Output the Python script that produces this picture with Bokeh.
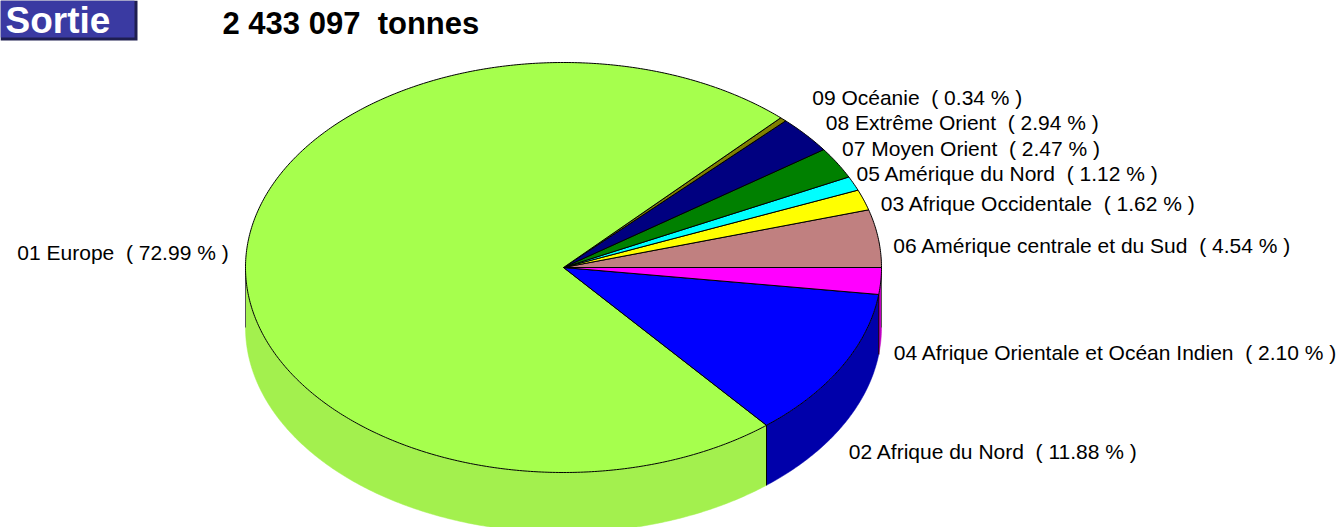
import numpy as np
from bokeh.plotting import figure
from bokeh.models import ColumnDataSource, Range1d
from bokeh.core.properties import value
from bokeh.embed import file_html
from bokeh.resources import INLINE

# ---- data (pie order: counter-clockwise starting at 3 o'clock) ----
codes = ["06", "03", "05", "07", "08", "09", "01", "02", "04"]
names = ["Amérique centrale et du Sud", "Afrique Occidentale", "Amérique du Nord",
         "Moyen Orient", "Extrême Orient", "Océanie", "Europe",
         "Afrique du Nord", "Afrique Orientale et Océan Indien"]
percents = [4.54, 1.62, 1.12, 2.47, 2.94, 0.34, 72.99, 11.88, 2.10]
total_tonnes = 2433097
flow_label = "Sortie"

# ---- styles ----
top_colors = ["#c08080", "#ffff00", "#00ffff", "#008000", "#000080", "#808000",
              "#a6ff4d", "#0000ff", "#ff00ff"]
side_colors = ["#9a6666", "#cccc00", "#00cccc", "#006600", "#000066", "#666600",
               "#a3f04e", "#0000aa", "#c000c0"]
# label nudges (pixels) relative to the slice's rim anchor point
nudges = {"06": (15, 7), "03": (17, 4), "05": (3, -10), "07": (5, -14),
          "08": (20, -12), "09": (29, -22), "01": (-17, -9),
          "02": (7, 85), "04": (13, 71)}

W, H = 1344, 527
cx, cy, rx, ry, depth = 563.0, 267.0, 318.0, 205.0, 60.0
FONT = "Liberation Sans"
NB = "\u00a0"


def rim(t_deg, dy=0.0):
    t = np.radians(t_deg)
    return cx + rx * np.cos(t), cy - ry * np.sin(t) + dy


p = figure(width=W, height=H, x_range=Range1d(0, W), y_range=Range1d(H, 0),
           output_backend="svg", toolbar_location=None, min_border=0)
p.axis.visible = False
p.grid.visible = False
p.outline_line_color = None
p.background_fill_color = "white"

cum = np.concatenate([[0.0], np.cumsum(percents)])
a0 = cum[:-1] * 3.6
a1 = cum[1:] * 3.6

# ---- side faces (front half: 180..360 deg) ----
side_xs, side_ys, side_c = [], [], []
edges = []
for i in range(len(percents)):
    s, e = max(a0[i], 180.0), min(a1[i], 360.0)
    if e <= s:
        continue
    ts = np.linspace(s, e, max(int((e - s) * 2), 4))
    tx, ty = rim(ts)
    bx, by = rim(ts[::-1], depth)
    side_xs.append(list(tx) + list(bx))
    side_ys.append(list(ty) + list(by))
    side_c.append(side_colors[i])
    if 180.0 < a0[i] < 360.0:
        edges.append(a0[i])
p.patches(xs=side_xs, ys=side_ys, fill_color=side_c, line_color=side_c, line_width=0.5)

ex, ey = [], []
for a in edges:
    x0, y0 = rim(a)
    ex.append([x0, x0]); ey.append([y0, y0 + depth])
p.multi_line(xs=ex, ys=ey, line_color="black", line_width=1)
sx, sy = [], []
for a in (180.0, 360.0):
    x0, y0 = rim(a)
    sx.append([x0, x0]); sy.append([y0, y0 + depth])
p.multi_line(xs=sx, ys=sy, line_color="#555555", line_width=1)

# ---- top faces ----
top_xs, top_ys = [], []
for i in range(len(percents)):
    ts = np.linspace(a0[i], a1[i], max(int((a1[i] - a0[i]) * 2), 4))
    tx, ty = rim(ts)
    top_xs.append([cx] + list(tx))
    top_ys.append([cy] + list(ty))
p.patches(xs=top_xs, ys=top_ys, fill_color=top_colors, line_color="black", line_width=1)

# ---- labels ----
lx, ly, lt, la = [], [], [], []
for i in range(len(percents)):
    m = (a0[i] + a1[i]) / 2
    ax, ay = rim(m)
    dx, dy = nudges[codes[i]]
    lx.append(ax + dx); ly.append(ay + dy)
    lt.append(f"{codes[i]} {names[i]}{NB}{NB}( {percents[i]:.2f} % )")
    la.append("right" if np.cos(np.radians(m)) < 0 else "left")
src = ColumnDataSource(dict(x=lx, y=ly, t=lt, a=la))
p.text(x="x", y="y", text="t", text_align="a", text_baseline="middle", source=src,
       text_font=value(FONT), text_font_size="21px", text_color="black")

# ---- header ----
p.quad(left=[0], right=[137], top=[0], bottom=[40], fill_color="#1e1e50", line_color=None)
p.quad(left=[0], right=[134], top=[0], bottom=[37], fill_color="#3a3aa2", line_color=None)
p.text(x=[5], y=[20], text=[flow_label], text_font=value(FONT), text_font_style="bold",
       text_font_size="37px", text_color="white", text_baseline="middle")
title = f"{total_tonnes:,}".replace(",", " ") + NB + NB + "tonnes"
p.text(x=[222], y=[23], text=[title], text_font=value(FONT), text_font_style="bold",
       text_font_size="31px", text_color="black", text_baseline="middle")

open("out.html", "w").write(file_html(p, INLINE))
